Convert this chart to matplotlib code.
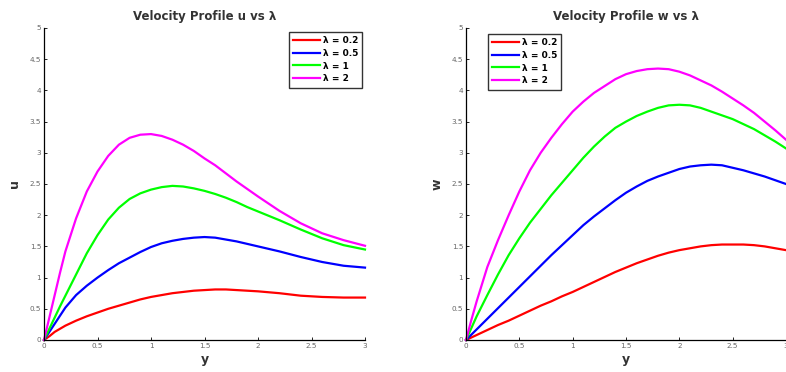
import matplotlib.pyplot as plt

# values
lambdas = ['0.2', '0.5', '1', '2']
colors = ['#ff0000', '#0000ff', '#00ff00', '#ff00ff']

y_u = [0, 0.05, 0.1, 0.15, 0.2, 0.3, 0.4, 0.5, 0.6, 0.7, 0.8, 0.9, 1.0, 1.1, 1.2,
       1.3, 1.4, 1.5, 1.6, 1.7, 1.8, 1.9, 2.0, 2.2, 2.4, 2.6, 2.8, 3.0]
u_02 = [0, 0.06, 0.13, 0.18, 0.23, 0.31, 0.38, 0.44, 0.50, 0.55, 0.60, 0.65, 0.69, 0.72,
        0.75, 0.77, 0.79, 0.80, 0.81, 0.81, 0.80, 0.79, 0.78, 0.75, 0.71, 0.69, 0.68, 0.68]
u_05 = [0, 0.13, 0.26, 0.39, 0.52, 0.72, 0.87, 1.00, 1.12, 1.23, 1.32, 1.41, 1.49, 1.55,
        1.59, 1.62, 1.64, 1.65, 1.64, 1.61, 1.58, 1.54, 1.50, 1.42, 1.33, 1.25, 1.19, 1.16]
u_1 = [0, 0.18, 0.36, 0.54, 0.71, 1.05, 1.39, 1.68, 1.93, 2.12, 2.26, 2.35, 2.41, 2.45,
       2.47, 2.46, 2.43, 2.39, 2.34, 2.28, 2.21, 2.13, 2.06, 1.92, 1.77, 1.63, 1.52, 1.45]
u_2 = [0, 0.36, 0.72, 1.08, 1.42, 1.95, 2.38, 2.70, 2.95, 3.13, 3.24, 3.29, 3.30, 3.27,
       3.21, 3.13, 3.03, 2.91, 2.80, 2.67, 2.54, 2.42, 2.30, 2.07, 1.87, 1.71, 1.60, 1.51]

y_w = [0, 0.05, 0.1, 0.2, 0.3, 0.4, 0.5, 0.6, 0.7, 0.8, 0.9, 1.0, 1.1, 1.2, 1.3, 1.4,
       1.5, 1.6, 1.7, 1.8, 1.9, 2.0, 2.1, 2.2, 2.3, 2.4, 2.5, 2.6, 2.7, 2.8, 2.9, 3.0]
w_02 = [0, 0.04, 0.08, 0.16, 0.24, 0.31, 0.39, 0.47, 0.55, 0.62, 0.70, 0.77, 0.85, 0.93,
        1.01, 1.09, 1.16, 1.23, 1.29, 1.35, 1.40, 1.44, 1.47, 1.50, 1.52, 1.53, 1.53,
        1.53, 1.52, 1.50, 1.47, 1.44]
w_05 = [0, 0.085, 0.17, 0.34, 0.51, 0.68, 0.85, 1.02, 1.19, 1.36, 1.52, 1.68, 1.84, 1.98,
        2.11, 2.24, 2.36, 2.46, 2.55, 2.62, 2.68, 2.74, 2.78, 2.80, 2.81, 2.80, 2.76,
        2.72, 2.67, 2.62, 2.56, 2.50]
w_1 = [0, 0.19, 0.38, 0.72, 1.05, 1.36, 1.63, 1.88, 2.10, 2.32, 2.52, 2.72, 2.92, 3.10,
       3.26, 3.40, 3.50, 3.59, 3.66, 3.72, 3.76, 3.77, 3.76, 3.72, 3.66, 3.60, 3.54,
       3.46, 3.38, 3.28, 3.18, 3.07]
w_2 = [0, 0.32, 0.62, 1.17, 1.60, 2.00, 2.38, 2.72, 3.00, 3.24, 3.46, 3.66, 3.82, 3.96,
       4.07, 4.18, 4.26, 4.31, 4.34, 4.35, 4.34, 4.30, 4.24, 4.16, 4.08, 3.98, 3.87,
       3.76, 3.64, 3.50, 3.36, 3.21]

x_ticks = [0, 0.5, 1, 1.5, 2, 2.5, 3]
y_ticks = [0, 0.5, 1, 1.5, 2, 2.5, 3, 3.5, 4, 4.5, 5]

fig = plt.figure(figsize=(7.86, 3.72), dpi=100)
W, H = 786, 372


def setup(ax, x, series, title, ylabel, legend_loc, anchor):
    for vals, c, lam in zip(series, colors, lambdas):
        ax.plot(x, vals, color=c, lw=1.6, label='λ = ' + lam, clip_on=False)
    ax.set_xlim(0, 3)
    ax.set_ylim(0, 5)
    ax.set_xticks(x_ticks)
    ax.set_xticklabels([f'{t:g}' for t in x_ticks])
    ax.set_yticks(y_ticks)
    ax.set_yticklabels([f'{t:g}' for t in y_ticks])
    ax.tick_params(direction='in', length=2.5, width=0.6, labelsize=5.2,
                   labelcolor='#666666', pad=2)
    for s in ['top', 'right']:
        ax.spines[s].set_visible(False)
    for s in ['left', 'bottom']:
        ax.spines[s].set_linewidth(0.9)
    ax.set_title(title, fontsize=8.5, fontweight='bold', color='#333333', pad=6)
    ax.set_xlabel('y', fontsize=9, fontweight='bold', color='#333333', labelpad=3)
    ax.set_ylabel(ylabel, fontsize=9, fontweight='bold', color='#333333', labelpad=6)
    leg = ax.legend(loc=legend_loc, bbox_to_anchor=anchor,
                    bbox_transform=fig.transFigure, fontsize=6.5, handlelength=3.0,
                    frameon=True, fancybox=False, borderpad=0.45,
                    labelspacing=0.42, handletextpad=0.3, borderaxespad=0)
    leg.get_frame().set_edgecolor('black')
    leg.get_frame().set_linewidth(1.0)
    for t in leg.get_texts():
        t.set_fontweight('bold')


ax1 = fig.add_axes([44 / W, 1 - 340 / H, 321 / W, 312 / H])
setup(ax1, y_u, [u_02, u_05, u_1, u_2], 'Velocity Profile u vs λ', 'u',
      'upper right', (362 / W, 1 - 32 / H))

ax2 = fig.add_axes([466 / W, 1 - 340 / H, 320 / W, 312 / H])
setup(ax2, y_w, [w_02, w_05, w_1, w_2], 'Velocity Profile w vs λ', 'w',
      'upper left', (488 / W, 1 - 34 / H))

fig.savefig('out.png', dpi=100)
